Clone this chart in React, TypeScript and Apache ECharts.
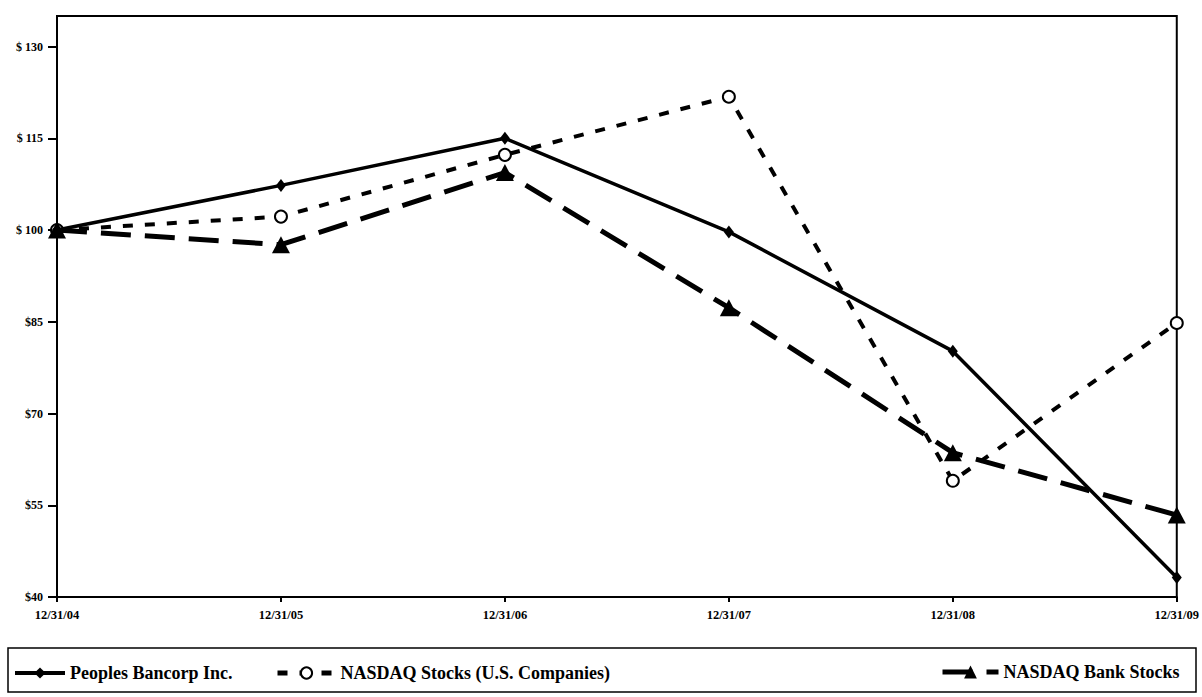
import React, { useEffect, useRef } from "react";
import * as echarts from "echarts";

const categories = ["12/31/04", "12/31/05", "12/31/06", "12/31/07", "12/31/08", "12/31/09"];
const peoples = [100, 107.3, 115.0, 99.7, 80.2, 43.2];
const nasdaq = [100, 102.2, 112.3, 121.8, 59.0, 84.8];
const bank = [100, 97.6, 109.4, 87.3, 63.6, 53.4];
const yTicks = [40, 55, 70, 85, 100, 115, 130];
const seriesNames = ["Peoples Bancorp Inc.", "NASDAQ Stocks (U.S. Companies)", "NASDAQ Bank Stocks"];

const FONT = "'Liberation Serif', 'Times New Roman', serif";

export default function App() {
  const ref = useRef<HTMLDivElement>(null);
  useEffect(() => {
    if (!ref.current) return;
    const chart = echarts.init(ref.current, null, { renderer: "svg" });
    const legendText = { fontFamily: FONT, fontWeight: "bold", fontSize: 18, color: "#000" };
    chart.setOption({
      animation: false,
      backgroundColor: "#fff",
      grid: {
        left: 57,
        right: 25,
        top: 16,
        bottom: 100,
        show: true,
        borderColor: "#000",
        borderWidth: 2,
        backgroundColor: "transparent",
      },
      xAxis: {
        type: "category",
        data: categories,
        boundaryGap: false,
        axisLine: { lineStyle: { color: "#000", width: 2 } },
        axisTick: { show: true, length: 5, lineStyle: { color: "#000", width: 2 } },
        axisLabel: {
          fontFamily: FONT,
          fontWeight: "bold",
          fontSize: 12.5,
          color: "#000",
          margin: 11,
        },
        splitLine: { show: false },
      },
      yAxis: {
        type: "value",
        min: 40,
        max: 135,
        interval: 15,
        axisLine: { show: true, lineStyle: { color: "#000", width: 2 } },
        axisTick: {
          show: true,
          length: 9,
          lineStyle: { color: "#000", width: 2 },
          customValues: yTicks,
        },
        axisLabel: {
          fontFamily: FONT,
          fontWeight: "bold",
          fontSize: 12,
          color: "#000",
          margin: 14,
          customValues: yTicks,
          formatter: (v: number) => (v >= 100 ? "$ " + v : "$" + v),
        },
        splitLine: { show: false },
      },
      legend: [
        {
          data: [seriesNames[0]],
          left: 8,
          top: 659,
          itemWidth: 50,
          itemHeight: 14,
          itemGap: 4,
          lineStyle: { width: 4 },
          textStyle: legendText,
        },
        {
          data: [seriesNames[1]],
          left: 270,
          top: 659,
          itemWidth: 58,
          itemHeight: 14,
          lineStyle: { width: 5 },
          textStyle: legendText,
        },
        {
          data: [seriesNames[2]],
          left: 935,
          top: 658,
          itemWidth: 56,
          itemHeight: 16,
          lineStyle: { width: 5 },
          textStyle: legendText,
        },
      ],
      graphic: [
        {
          type: "rect",
          shape: { x: 8, y: 648, width: 1188, height: 44 },
          style: { fill: "none", stroke: "#000", lineWidth: 1.5 },
        },
      ],
      series: [
        {
          name: seriesNames[0],
          type: "line",
          data: peoples,
          symbol: "diamond",
          symbolSize: [10, 13],
          itemStyle: { color: "#000" },
          lineStyle: { color: "#000", width: 3.5, type: "solid" },
          z: 3,
        },
        {
          name: seriesNames[1],
          type: "line",
          data: nasdaq,
          symbol: "emptyCircle",
          symbolSize: 12,
          itemStyle: { color: "#000", borderColor: "#000", borderWidth: 2 },
          lineStyle: { color: "#000", width: 4, type: [10, 12] },
          z: 2,
        },
        {
          name: seriesNames[2],
          type: "line",
          data: bank,
          symbol: "triangle",
          symbolSize: [18, 17],
          itemStyle: { color: "#000" },
          lineStyle: { color: "#000", width: 5, type: [30, 14] },
          z: 2,
        },
      ],
    });
    return () => chart.dispose();
  }, []);
  return (
    <div
      ref={ref}
      style={{ position: "absolute", left: 0, top: 0, width: 1202, height: 697 }}
    />
  );
}
